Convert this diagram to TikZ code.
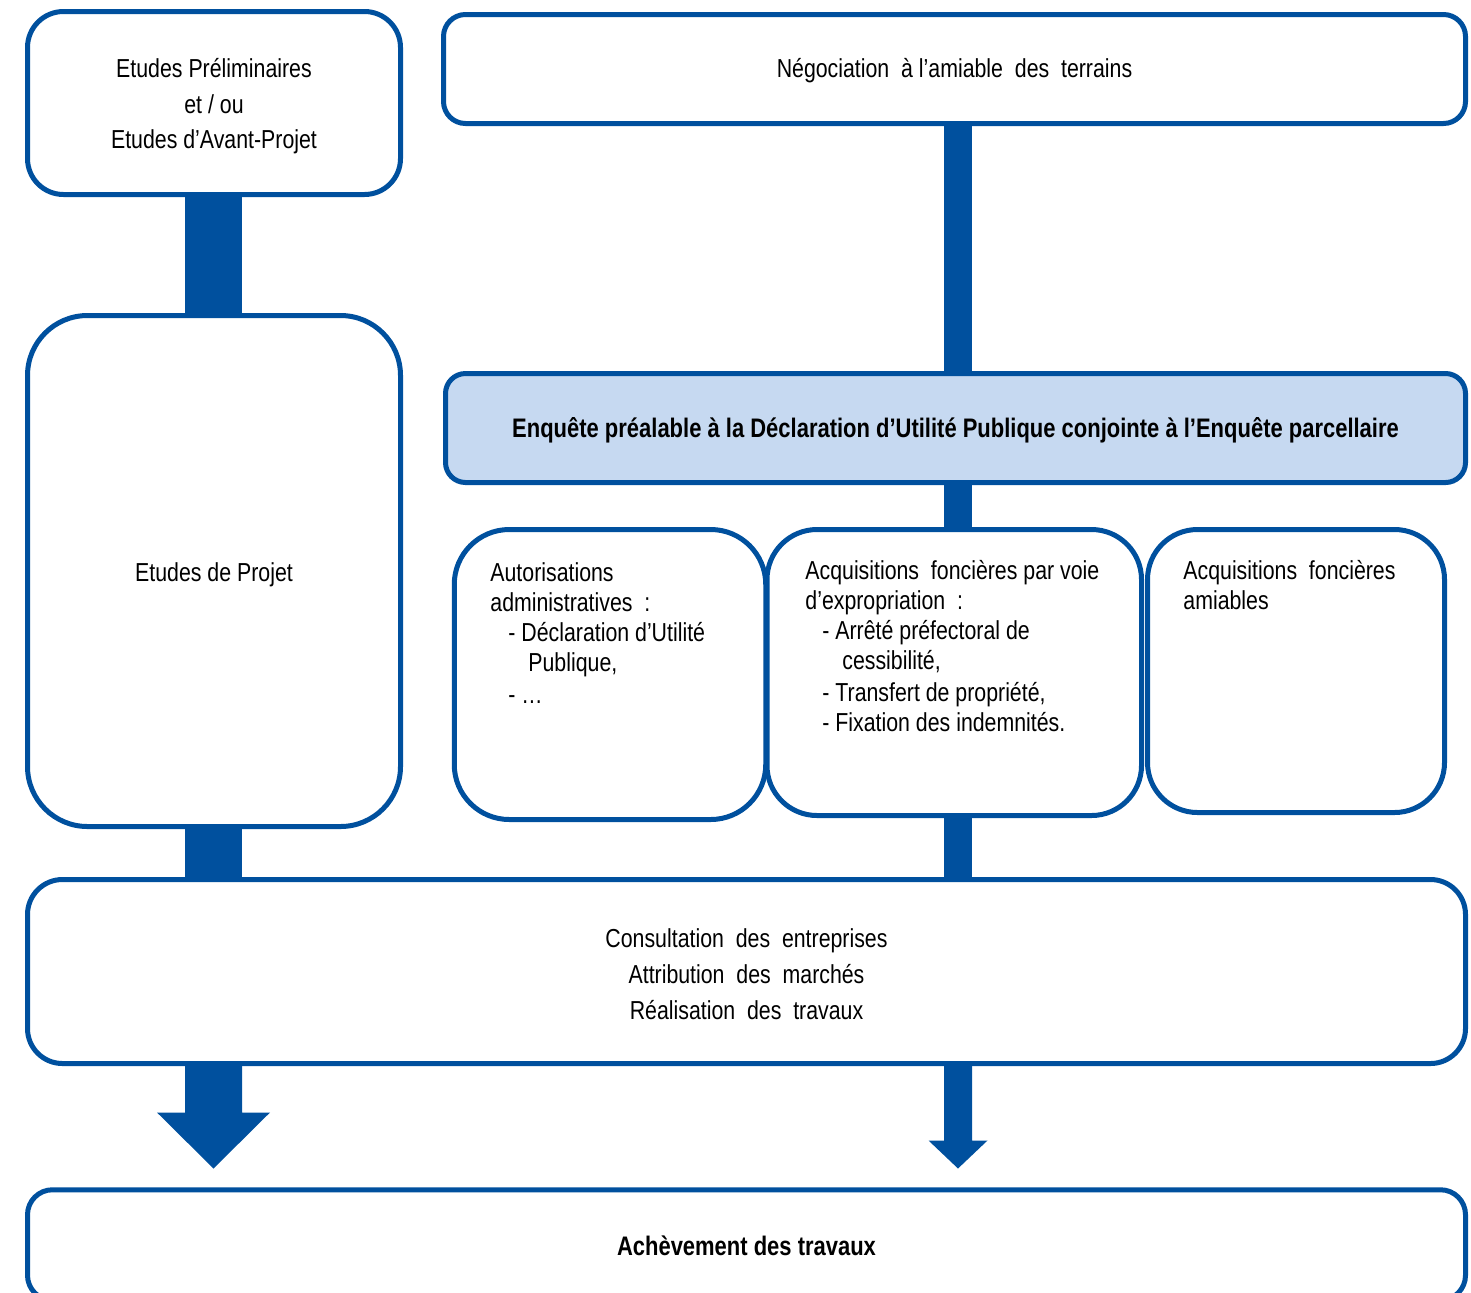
\documentclass[tikz,border=0pt]{standalone}
\usepackage{fontspec}
\setmainfont{Liberation Sans}[FakeStretch=0.82]
\definecolor{dblue}{RGB}{0,80,158}
\definecolor{lblue}{RGB}{198,217,241}
\begin{document}
\begin{tikzpicture}[x=0.5pt,y=-0.5pt,
  box/.style={draw=dblue, line width=2.5pt, fill=white, inner sep=0pt},
  ctext/.style={inner sep=0pt, align=center, font=\fontsize{13pt}{17.75pt}\selectfont},
  btext/.style={inner sep=0pt, align=center, font=\fontsize{13.4pt}{16pt}\selectfont\bfseries},
  lefttext/.style={anchor=north west, inner sep=0pt, align=left,
    font=\fontsize{13pt}{15pt}\selectfont},
  barthick/.style={draw=dblue, line width=28.5pt},
  barthin/.style={draw=dblue, line width=14pt},
  arrowfill/.style={fill=dblue}]
\useasboundingbox (0,0) rectangle (1471,1292);
\clip (0,0) rectangle (1471,1292);
\coordinate (lx) at (213.5,0);
\coordinate (rx) at (958,0);

\node[box, minimum width=186.5pt, minimum height=91.5pt, rounded corners=18pt] (b1) at (214,103) {};
\node[box, minimum width=511pt, minimum height=54.5pt, rounded corners=11pt] (b2) at (954.5,69) {};
\node[box, minimum width=186.5pt, minimum height=255.5pt, rounded corners=30pt] (b3) at (214,571) {};
\node[box, fill=lblue, minimum width=510pt, minimum height=54.5pt, rounded corners=10pt] (b4) at (955.5,428) {};
\node[box, minimum width=155.75pt, minimum height=145pt, rounded corners=27.5pt] (b5) at (610,674.5) {};
\node[box, minimum width=187.25pt, minimum height=143pt, rounded corners=25pt] (b6) at (954.25,672.5) {};
\node[box, minimum width=148.5pt, minimum height=141.5pt, rounded corners=25pt] (b7) at (1296,671) {};
\node[box, minimum width=719pt, minimum height=92pt, rounded corners=17.5pt] (b8) at (746.5,971.5) {};
\node[box, minimum width=719pt, minimum height=55.25pt, rounded corners=12.5pt] (b9) at (746.5,1245) {};

\node[ctext] (t1) at ([yshift=-1.75pt]b1.center)
  {Etudes Préliminaires\\et / ou\\Etudes d’Avant-Projet};
\node[ctext] (t2) at ([yshift=-1pt]b2.center)
  {Négociation \ à l’amiable \ des \ terrains};
\node[ctext] (t3) at ([yshift=-1.75pt]b3.center) {Etudes de Projet};
\node[btext] (t4) at ([yshift=-1.25pt]b4.center)
  {Enquête préalable à la Déclaration d’Utilité Publique conjointe à l’Enquête parcellaire};
\node[ctext, font=\fontsize{13pt}{18pt}\selectfont] (t8) at ([yshift=-1.25pt]b8.center)
  {Consultation \ des \ entreprises\\Attribution \ des \ marchés\\Réalisation \ des \ travaux};
\node[btext] (t9) at ([yshift=-0.25pt]b9.center) {Achèvement des travaux};

\node[lefttext] (t5) at (490,562)
  {Autorisations\\administratives \ :\\\hspace*{9pt}- Déclaration d’Utilité\\\hspace*{19pt}Publique,\\[1pt]\hspace*{9pt}- …};
\node[lefttext] (t6) at (805,560)
  {Acquisitions \ foncières par voie\\d’expropriation \ :\\\hspace*{8.5pt}- Arrêté préfectoral de\\\hspace*{18.5pt}cessibilité,\\[1pt]\hspace*{8.5pt}- Transfert de propriété,\\\hspace*{8.5pt}- Fixation des indemnités.};
\node[lefttext] (t7) at (1183,560)
  {Acquisitions \ foncières\\amiables};

\draw[barthick] (b1.south -| lx) -- (b3.north -| lx);
\draw[barthick] (b3.south -| lx) -- (b8.north -| lx);
\draw[barthin] (b2.south -| rx) -- (b4.north -| rx);
\draw[barthin] (b4.south -| rx) -- (b6.north -| rx);
\draw[barthin] (b6.south -| rx) -- (b8.north -| rx);

\fill[arrowfill] (b8.south -| lx) ++(-28.5,0) -- ++(0,46.5) -- ++(-28,0) -- ++(56.5,56)
  -- ++(56.5,-56) -- ++(-28,0) -- ++(0,-46.5) -- cycle;
\fill[arrowfill] (b8.south -| rx) ++(-14,0) -- ++(0,74.5) -- ++(-15.5,0) -- ++(29.5,28)
  -- ++(29.5,-28) -- ++(-15.5,0) -- ++(0,-74.5) -- cycle;
\end{tikzpicture}
\end{document}
